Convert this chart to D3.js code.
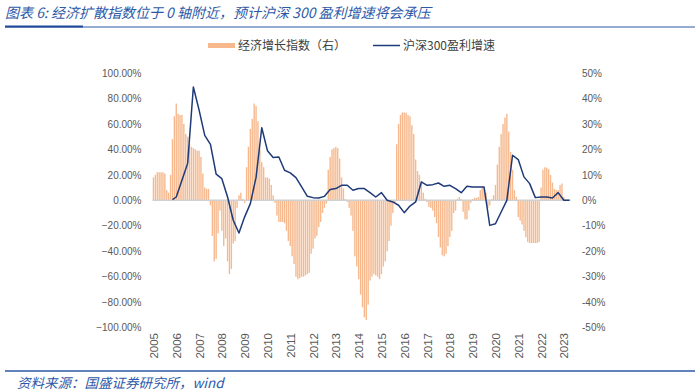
<!DOCTYPE html>
<html><head><meta charset="utf-8">
<script src="https://cdn.jsdelivr.net/npm/d3@7"></script>
<style>
html,body{margin:0;padding:0;background:#fff;}
svg{display:block;}
</style></head>
<body>
<svg id="c" width="700" height="392"></svg>
<script>
// ---- data ----
const startYear = 2005;
const yearLabels = ["2005","2006","2007","2008","2009","2010","2011","2012","2013","2014","2015","2016","2017","2018","2019","2020","2021","2022","2023"];
// 经济增长指数（右） monthly, %
const econ2005 = [9, 10, 11, 11, 11, 11, 10.5, 4, 3, 10, 24, 33];
const econ2006 = [38, 34, 33.5, 33.5, 30, 26, 25, 22, 21, 20.5, 20, 19.5];
const econ2007 = [19.5, 17, 10.5, 5, 4.5, 4.5, -2, -14, -24, -23, -13, -4];
const econ2008 = [-12, -18, -15, -24, -29, -27, -17, -16, -3, 2, 3, 0.5];
const econ2009 = [-1, 13, 21, 28, 32, 38, 37, 31, 20, 15, 13, 9];
const econ2010 = [9, 8.5, 6, 2, -1, -6, -8.5, -8.5, -8.5, -9, -12, -16];
const econ2011 = [-18, -22, -25, -30, -31, -30.5, -30, -30, -29.5, -29, -28.5, -21];
const econ2012 = [-19, -15, -14, -10.5, -8.5, -5, -3, -1.3, 12, 17, 20, 20.5];
const econ2013 = [21, 20.5, 16.4, 9, 4.6, 0.5, -0.6, -3, -6, -12, -22, -26];
const econ2014 = [-31, -37, -42, -46, -47, -41, -31.5, -30, -29, -29.5, -30, -31];
const econ2015 = [-29, -26, -24, -20, -16, -10, -5, -1, 22, 30, 33.5, 34.5];
const econ2016 = [34.5, 34.4, 33.5, 33, 29.5, 26, 16, 11.5, 10, 7, 3, 0.6];
const econ2017 = [-0.7, -2.6, -3, -4, -6.6, -9, -14.4, -18.5, -21.6, -22, -21, -18];
const econ2018 = [-14.4, -12, -5, -4, 0.6, 1.3, 0.5, -4.5, -7.5, -7.5, -4, -1];
const econ2019 = [0.5, 1, 1, 1.3, 4, 5, 5, 3, -3, -2, 0.5, 2];
const econ2020 = [6, 14, 21, 26, 30, 32.5, 34, 27, 19, 12, 4, 1.3];
const econ2021 = [-6.6, -8, -9.5, -12, -14.5, -16.4, -16.8, -16.8, -16.8, -16.8, -16.8, -16.4];
const econ2022 = [5, 12, 13, 12.8, 12.3, 10, 7, 4.5, 4, 4, 6, 6.6];
const econ2023 = [1.3];
// 沪深300盈利增速 (左), %
const profitDates = ["2005-11","2006-01","2006-04","2006-07","2006-10","2007-01","2007-04","2007-07","2007-10","2008-01","2008-04","2008-07","2008-10","2009-01","2009-04","2009-07","2009-10","2010-01","2010-04","2010-07","2010-10","2011-01","2011-04","2011-07","2011-10","2012-01","2012-04","2012-07","2012-10","2013-01","2013-04","2013-07","2013-10","2014-01","2014-04","2014-07","2014-10","2015-01","2015-04","2015-07","2015-10","2016-01","2016-04","2016-07","2016-10","2017-01","2017-04","2017-07","2017-10","2018-01","2018-04","2018-07","2018-10","2019-01","2019-04","2019-07","2019-10","2020-01","2020-04","2020-07","2020-10","2021-01","2021-04","2021-07","2021-10","2022-01","2022-04","2022-07","2022-10","2023-01","2023-04"];
const profitValues = [0.5, 2.6, 15.7, 29, 89, 71, 51, 44, 20.5, 17, 2.6, -15.7, -25.7, -13, -2.6, 18, 57, 39, 33.6, 34, 23.6, 21.5, 17.8, 10.5, 3.1, 2.1, 1.8, 3.1, 8.4, 9.2, 11.8, 11.8, 7.9, 9.2, 9.2, 6, 2.6, 6, 0, -1.3, -3.9, -9.7, -4.5, -1.3, 14.4, 11.8, 12.3, 13.6, 11, 11.8, 9.2, 6, 11, 10.5, 10.5, 10.5, -19.7, -18.4, -9.2, 0, 35.4, 32, 18.4, 13.1, 2.1, 2.6, 2.6, 1.8, 6, 0, 0];
const leftTicks = [100, 80, 60, 40, 20, 0, -20, -40, -60, -80, -100];
const rightTicks = [50, 40, 30, 20, 10, 0, -10, -20, -30, -40, -50];

const econ = [].concat(econ2005, econ2006, econ2007, econ2008, econ2009, econ2010, econ2011, econ2012, econ2013, econ2014, econ2015, econ2016, econ2017, econ2018, econ2019, econ2020, econ2021, econ2022, econ2023);
const monthIndex = s => { const [y, m] = s.split("-").map(Number); return (y - startYear) * 12 + (m - 1); };

// ---- layout ----
const svg = d3.select("#c");
const plotL = 152.5, plotR = 570.5, yTop = 73, yBot = 327.6;
const nMonths = 220;
const x = d3.scaleLinear().domain([0, nMonths]).range([plotL, plotR]);
const step = (plotR - plotL) / nMonths;
const yL = d3.scaleLinear().domain([-100, 100]).range([yBot, yTop]);
const yR = d3.scaleLinear().domain([-50, 50]).range([yBot, yTop]);

const blue = "#2E59A7";
const tickColor = "#595959";
const barColor = "#F6B88C";
const lineColor = "#1F3A78";

// title
svg.append("text").attr("x", 5).attr("y", 18)
  .attr("font-family", "'Noto Sans CJK SC', sans-serif").attr("font-size", 14).attr("font-style", "italic")
  .attr("fill", blue)
  .text("图表 6:  经济扩散指数位于 0 轴附近，预计沪深 300 盈利增速将会承压");
svg.append("line").attr("x1", 5).attr("x2", 695).attr("y1", 27).attr("y2", 27).attr("stroke", blue).attr("stroke-width", 1);
svg.append("line").attr("x1", 5).attr("x2", 83).attr("y1", 26.5).attr("y2", 26.5).attr("stroke", "#1F4A9A").attr("stroke-width", 2.2);

// legend
const lg = svg.append("g").attr("font-family", "'Noto Sans CJK SC', sans-serif").attr("font-size", 12).attr("fill", "#404040");
lg.append("rect").attr("x", 208).attr("y", 43).attr("width", 27).attr("height", 5).attr("fill", barColor);
lg.append("text").attr("x", 238).attr("y", 50).text("经济增长指数（右）");
lg.append("line").attr("x1", 373).attr("x2", 400).attr("y1", 45.5).attr("y2", 45.5).attr("stroke", lineColor).attr("stroke-width", 1.5);
lg.append("text").attr("x", 403).attr("y", 50).text("沪深300盈利增速");

// bars
const bw = step * 0.72;
svg.append("g").selectAll("rect").data(econ).join("rect")
  .attr("x", (d, i) => x(i + 0.5) - bw / 2)
  .attr("width", bw)
  .attr("y", d => Math.min(yR(d), yR(0)))
  .attr("height", d => Math.abs(yR(d) - yR(0)))
  .attr("fill", barColor);

// zero line
svg.append("line").attr("x1", plotL).attr("x2", plotR).attr("y1", yL(0)).attr("y2", yL(0))
  .attr("stroke", "#D0D0D0").attr("stroke-width", 1.5);

// line
const lineData = profitDates.map((d, i) => ({ m: monthIndex(d), v: profitValues[i] }));
svg.append("path").datum(lineData)
  .attr("d", d3.line().x(d => x(d.m + 0.5)).y(d => yL(d.v)))
  .attr("fill", "none").attr("stroke", lineColor).attr("stroke-width", 1.5).attr("stroke-linejoin", "round");

// axes
const axL = svg.append("g").attr("transform", `translate(${plotL - 11},0)`)
  .call(d3.axisLeft(yL).tickValues(leftTicks).tickFormat(d => d3.format(".2f")(d) + "%").tickSize(0).tickPadding(0));
const axR = svg.append("g").attr("transform", `translate(${582},0)`)
  .call(d3.axisRight(yR).tickValues(rightTicks).tickFormat(d => d + "%").tickSize(0).tickPadding(0));
const axB = svg.append("g").attr("transform", `translate(0,333)`)
  .call(d3.axisBottom(x).tickValues(yearLabels.map((d, i) => i * 12 + 0.5)).tickFormat((d, i) => yearLabels[i]).tickSize(0));
[axL, axR, axB].forEach(a => {
  a.select(".domain").remove();
  a.selectAll("text").attr("fill", tickColor).attr("font-family", "'Liberation Sans', Arial, sans-serif").attr("font-size", 10);
});
axB.selectAll("text").attr("font-size", 11.5).attr("transform", "rotate(-90)").attr("text-anchor", "end")
  .attr("x", 0).attr("y", 0).attr("dy", "0.35em").attr("dx", 0);

// footer
svg.append("line").attr("x1", 5).attr("x2", 695).attr("y1", 371).attr("y2", 371).attr("stroke", blue).attr("stroke-width", 1.5);
svg.append("text").attr("x", 17).attr("y", 388)
  .attr("font-family", "'Noto Sans CJK SC', sans-serif").attr("font-size", 13.5).attr("font-style", "italic")
  .attr("fill", blue).text("资料来源：国盛证券研究所，wind");
</script>
</body></html>
